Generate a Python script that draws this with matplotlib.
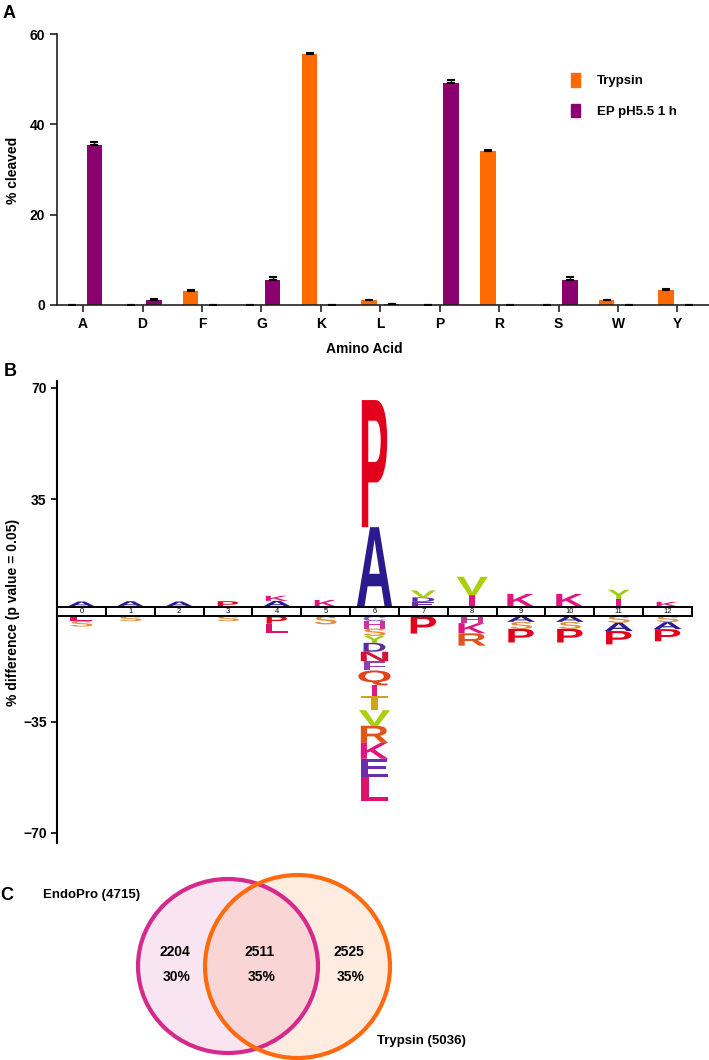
import numpy as np
import matplotlib
matplotlib.use('Agg')
import matplotlib.pyplot as plt
from matplotlib.patches import PathPatch, Rectangle, Ellipse, Patch
from matplotlib.textpath import TextPath
from matplotlib.font_manager import FontProperties
from matplotlib.transforms import Affine2D

plt.rcParams['font.family'] = ['Liberation Sans', 'DejaVu Sans']

# --- 数据: A 面板 ---
amino_acids = ['A', 'D', 'F', 'G', 'K', 'L', 'P', 'R', 'S', 'W', 'Y']
trypsin_vals = [0.1, 0.0, 3.0, 0.0, 55.5, 1.1, 0.0, 34.1, 0.0, 1.1, 3.3]
trypsin_err = [0.0, 0.0, 0.25, 0.0, 0.25, 0.0, 0.0, 0.25, 0.0, 0.0, 0.2]
ep_vals = [35.4, 1.1, 0.1, 5.5, 0.0, 0.15, 49.1, 0.0, 5.5, 0.0, 0.0]
ep_err = [0.7, 0.2, 0.0, 0.65, 0.0, 0.0, 0.7, 0.0, 0.65, 0.0, 0.0]

# --- 数据: B 面板 (序列 logo) ---
positions = list(range(13))
up_letters = ['A', 'A', 'A', 'P', 'AK', 'K', 'AP', 'EDV', 'IV', 'K', 'K', 'IY', 'K']
up_heights = [[1.6], [1.7], [1.6], [1.7], [1.8, 1.6], [2.1], [25.0, 40.0],
              [1.5, 1.4, 2.2], [3.6, 5.8], [4.0], [4.0], [2.4, 2.9], [1.5]]
down_letters = ['LS', 'S', '', 'S', 'PL', 'S', 'CHSYDNFQITVRKEL', 'P', 'HKR',
                'ASP', 'ASP', 'SAP', 'SAP']
down_heights = [[1.5, 1.8], [1.6], [], [1.6], [2.4, 2.9], [2.6],
                [1.6, 2.3, 2.3, 2.2, 2.8, 3.0, 2.9, 4.7, 3.3, 4.5, 4.9, 5.4, 5.0, 5.6, 7.8],
                [5.5], [2.2, 3.2, 3.9], [1.8, 2.2, 4.3], [1.8, 2.2, 4.3],
                [2.1, 2.6, 4.2], [1.9, 2.2, 3.8]]

# --- 数据: C 面板 (Venn) ---
venn_sets = ['EndoPro', 'Trypsin']
venn_totals = [4715, 5036]
venn_counts = [2204, 2511, 2525]
venn_pcts = ['30%', '35%', '35%']

ORANGE = '#FF6A00'
PURPLE = '#8B006F'
LETTER_COLORS = {
    'A': '#2B1A8E', 'P': '#E3001B', 'K': '#E0157F', 'L': '#E0106E',
    'S': '#E0903A', 'V': '#A9CF0D', 'Y': '#9DCB12', 'I': '#E01880',
    'E': '#6A2FA8', 'D': '#5B2D9E', 'H': '#C8379E', 'C': '#9B55C0',
    'N': '#D6103A', 'F': '#8E3FB3', 'Q': '#E0441A', 'T': '#D3A21A',
    'R': '#E0561A',
}
LETTER_W = {'A': 0.72, 'Q': 0.66, 'V': 0.64, 'I': 0.12, 'P': 0.52}
LOGO_FONT = FontProperties(family='Liberation Sans', weight='bold')

W, H = 709, 1060
fig = plt.figure(figsize=(W / 100, H / 100), dpi=100)


def px_axes(left, top, right, bottom):
    return fig.add_axes([left / W, 1 - bottom / H, (right - left) / W, (bottom - top) / H])


def fig_text(x, y, s, **kw):
    fig.text(x / W, 1 - y / H, s, **kw)


def draw_letter(ax, ch, x, y0, h):
    w = LETTER_W.get(ch, 0.56)
    if h < 3:
        w *= 0.8
    tp = TextPath((0, 0), ch, size=1, prop=LOGO_FONT)
    bb = tp.get_extents()
    tr = Affine2D().translate(-bb.x0, -bb.y0).scale(w / bb.width, h / bb.height).translate(x - w / 2, y0)
    ax.add_patch(PathPatch(tr.transform_path(tp), fc=LETTER_COLORS[ch], ec='none', lw=0))


# ---------------- 面板 A ----------------
ax_a = px_axes(57, 34, 709, 305)
x = np.arange(len(amino_acids))
ax_a.bar(x - 0.19, trypsin_vals, width=0.26, color=ORANGE, label='Trypsin', zorder=2)
ax_a.bar(x + 0.19, ep_vals, width=0.26, color=PURPLE, label='EP pH5.5 1 h', zorder=2)
ax_a.errorbar(x - 0.19, trypsin_vals, yerr=[np.zeros(len(x)), trypsin_err], fmt='none',
              ecolor='black', elinewidth=1, capsize=3, capthick=1.5, zorder=3)
ax_a.errorbar(x + 0.19, ep_vals, yerr=[np.zeros(len(x)), ep_err], fmt='none',
              ecolor='black', elinewidth=1, capsize=3, capthick=1.5, zorder=3)
ax_a.set_xlim(-0.44, 10.53)
ax_a.set_ylim(0, 60)
ax_a.set_yticks([0, 20, 40, 60])
ax_a.set_xticks(x)
ax_a.set_xticklabels(amino_acids)
for s in ['top', 'right']:
    ax_a.spines[s].set_visible(False)
for s in ['left', 'bottom']:
    ax_a.spines[s].set_linewidth(1.2)
    ax_a.spines[s].set_color('#222222')
ax_a.tick_params(direction='out', length=5, width=1.2, labelsize=10, colors='#222222')
for lab in ax_a.get_xticklabels() + ax_a.get_yticklabels():
    lab.set_fontweight('bold')
    lab.set_color('black')
ax_a.legend(handles=[Patch(color=ORANGE), Patch(color=PURPLE)],
            labels=['Trypsin', 'EP pH5.5 1 h'], loc='upper left',
            bbox_to_anchor=(571 / W, 1 - 73 / H), bbox_transform=fig.transFigure,
            frameon=False, handlelength=0.65, handleheight=1.2, handletextpad=1.3,
            labelspacing=1.25, borderpad=0, borderaxespad=0,
            prop={'weight': 'bold', 'size': 9.5})
fig_text(13, 170, '% cleaved', rotation=90, ha='center', va='center', fontsize=10, fontweight='bold')
fig_text(364, 349, 'Amino Acid', ha='center', va='center', fontsize=10, fontweight='bold')
fig_text(9, 14, 'A', ha='center', va='center', fontsize=13, fontweight='bold')

# ---------------- 面板 B ----------------
ax_b = px_axes(57, 381, 692, 843)
ax_b.set_xlim(-0.5, 12.5)
ax_b.set_ylim(-73.2, 72.2)
for s in ['top', 'right', 'bottom']:
    ax_b.spines[s].set_visible(False)
ax_b.spines['left'].set_linewidth(1.5)
ax_b.set_xticks([])
ax_b.set_yticks([70, 35, -35, -70])
ax_b.set_yticklabels(['70', '35', '\u221235', '\u221270'])
ax_b.tick_params(axis='y', direction='out', length=4, width=1.2, labelsize=10)
for lab in ax_b.get_yticklabels():
    lab.set_fontweight('bold')

box_lo, box_hi = -1.7, 1.1
for i in positions:
    ax_b.add_patch(Rectangle((i - 0.5, box_lo), 1, box_hi - box_lo, fc='white',
                             ec='black', lw=1.4, zorder=3, clip_on=False))
    ax_b.text(i, (box_lo + box_hi) / 2, str(i), ha='center', va='center',
              fontsize=5.5, zorder=4)
    y = box_hi + 0.1
    for ch, h in zip(up_letters[i], up_heights[i]):
        draw_letter(ax_b, ch, i, y, h)
        y += h
    y = box_lo - 0.1
    for ch, h in zip(down_letters[i], down_heights[i]):
        draw_letter(ax_b, ch, i, y - h, h)
        y -= h

fig_text(13, 612, '% difference (p value = 0.05)', rotation=90, ha='center', va='center',
         fontsize=10, fontweight='bold')
fig_text(10, 372, 'B', ha='center', va='center', fontsize=13, fontweight='bold')

# ---------------- 面板 C ----------------
ax_c = px_axes(0, 860, 709, 1060)
ax_c.set_xlim(0, 709)
ax_c.set_ylim(1060, 860)
ax_c.axis('off')
pink_edge = '#D42A8C'
orange_edge = '#FF6A0E'
ax_c.add_patch(Ellipse((228, 966), 180, 174, fc=pink_edge, alpha=0.12, ec='none'))
ax_c.add_patch(Ellipse((297.5, 966.5), 185, 183, fc=orange_edge, alpha=0.12, ec='none'))
ax_c.add_patch(Ellipse((228, 966), 180, 174, fc='none', ec=pink_edge, lw=3))
ax_c.add_patch(Ellipse((297.5, 966.5), 185, 183, fc='none', ec=orange_edge, lw=3))

count_x = [175, 260, 349]
for cx, n, p in zip(count_x, venn_counts, venn_pcts):
    ax_c.text(cx, 952, str(n), ha='center', va='center', fontsize=10, fontweight='bold')
    ax_c.text(cx + 2, 977, p, ha='center', va='center', fontsize=10, fontweight='bold')
ax_c.text(43, 895, f'{venn_sets[0]} ({venn_totals[0]})', ha='left', va='center',
          fontsize=9.5, fontweight='bold')
ax_c.text(377, 1041, f'{venn_sets[1]} ({venn_totals[1]})', ha='left', va='center',
          fontsize=9.5, fontweight='bold')
ax_c.text(7, 895, 'C', ha='center', va='center', fontsize=13, fontweight='bold')

fig.savefig('out.png', dpi=100)
